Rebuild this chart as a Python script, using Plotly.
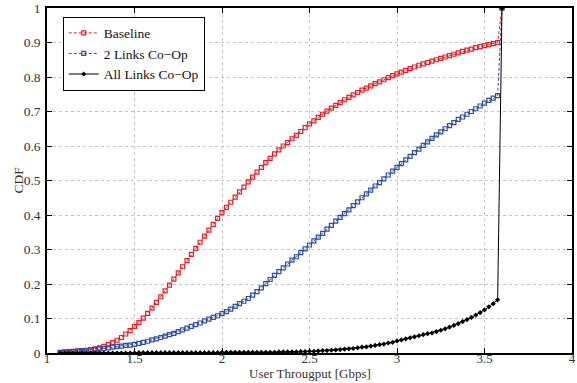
import plotly.graph_objects as go

throughput = [1.075, 1.1, 1.125, 1.15, 1.175, 1.2, 1.225, 1.25, 1.275, 1.3,
              1.325, 1.35, 1.375, 1.4, 1.425, 1.45, 1.475, 1.5, 1.525, 1.55,
              1.575, 1.6, 1.625, 1.65, 1.675, 1.7, 1.725, 1.75, 1.775, 1.8,
              1.825, 1.85, 1.875, 1.9, 1.925, 1.95, 1.975, 2.0, 2.025, 2.05,
              2.075, 2.1, 2.125, 2.15, 2.175, 2.2, 2.225, 2.25, 2.275, 2.3,
              2.325, 2.35, 2.375, 2.4, 2.425, 2.45, 2.475, 2.5, 2.525, 2.55,
              2.575, 2.6, 2.625, 2.65, 2.675, 2.7, 2.725, 2.75, 2.775, 2.8,
              2.825, 2.85, 2.875, 2.9, 2.925, 2.95, 2.975, 3.0, 3.025, 3.05,
              3.075, 3.1, 3.125, 3.15, 3.175, 3.2, 3.225, 3.25, 3.275, 3.3,
              3.325, 3.35, 3.375, 3.4, 3.425, 3.45, 3.475, 3.5, 3.525, 3.55,
              3.575, 3.6]

cdf_baseline = [0.001, 0.002, 0.002, 0.003, 0.004, 0.005, 0.007, 0.009, 0.012, 0.015,
                0.019, 0.024, 0.030, 0.037, 0.045, 0.055, 0.065, 0.077, 0.088, 0.101,
                0.115, 0.130, 0.147, 0.163, 0.180, 0.197, 0.214, 0.232, 0.250, 0.268,
                0.286, 0.303, 0.321, 0.339, 0.356, 0.373, 0.390, 0.407, 0.422, 0.437,
                0.452, 0.467, 0.481, 0.496, 0.510, 0.524, 0.538, 0.552, 0.564, 0.577,
                0.589, 0.600, 0.610, 0.621, 0.631, 0.642, 0.653, 0.664, 0.673, 0.683,
                0.692, 0.701, 0.710, 0.718, 0.726, 0.734, 0.741, 0.748, 0.755, 0.762,
                0.768, 0.774, 0.781, 0.786, 0.792, 0.798, 0.804, 0.809, 0.814, 0.819,
                0.824, 0.829, 0.834, 0.838, 0.842, 0.846, 0.850, 0.854, 0.858, 0.862,
                0.866, 0.870, 0.874, 0.878, 0.881, 0.885, 0.888, 0.891, 0.894, 0.897,
                0.900, 1.000]

cdf_2links = [0.002, 0.003, 0.004, 0.005, 0.006, 0.007, 0.008, 0.009, 0.010, 0.012,
              0.013, 0.015, 0.017, 0.019, 0.020, 0.022, 0.023, 0.025, 0.028, 0.031,
              0.034, 0.038, 0.041, 0.045, 0.049, 0.053, 0.057, 0.062, 0.067, 0.072,
              0.077, 0.082, 0.087, 0.093, 0.098, 0.103, 0.108, 0.114, 0.120, 0.127,
              0.135, 0.143, 0.150, 0.158, 0.168, 0.178, 0.189, 0.201, 0.213, 0.225,
              0.236, 0.247, 0.258, 0.269, 0.279, 0.291, 0.302, 0.313, 0.325, 0.336,
              0.347, 0.359, 0.370, 0.382, 0.393, 0.404, 0.415, 0.427, 0.438, 0.450,
              0.461, 0.472, 0.484, 0.494, 0.505, 0.516, 0.527, 0.538, 0.549, 0.560,
              0.570, 0.581, 0.591, 0.602, 0.612, 0.622, 0.632, 0.641, 0.650, 0.659,
              0.668, 0.677, 0.684, 0.692, 0.700, 0.708, 0.716, 0.724, 0.732, 0.739,
              0.746, 1.000]

cdf_all_links = [0.000, 0.000, 0.000, 0.000, 0.000, 0.000, 0.000, 0.000, 0.000, 0.000,
                 0.000, 0.000, 0.000, 0.000, 0.000, 0.000, 0.000, 0.000, 0.001, 0.001,
                 0.001, 0.001, 0.001, 0.001, 0.001, 0.001, 0.001, 0.001, 0.001, 0.001,
                 0.001, 0.001, 0.001, 0.001, 0.001, 0.001, 0.001, 0.002, 0.002, 0.002,
                 0.002, 0.002, 0.002, 0.002, 0.002, 0.002, 0.002, 0.002, 0.002, 0.002,
                 0.003, 0.003, 0.003, 0.003, 0.003, 0.004, 0.004, 0.005, 0.005, 0.006,
                 0.007, 0.007, 0.008, 0.009, 0.010, 0.011, 0.012, 0.013, 0.015, 0.017,
                 0.018, 0.020, 0.022, 0.024, 0.026, 0.029, 0.031, 0.035, 0.038, 0.041,
                 0.044, 0.047, 0.050, 0.053, 0.056, 0.058, 0.062, 0.066, 0.070, 0.075,
                 0.080, 0.085, 0.091, 0.097, 0.103, 0.110, 0.117, 0.125, 0.134, 0.143,
                 0.154, 1.000]

x_ticks = [1, 1.5, 2, 2.5, 3, 3.5, 4]
x_tick_labels = ["1", "1.5", "2", "2.5", "3", "3.5", "4"]
y_ticks = [0, 0.1, 0.2, 0.3, 0.4, 0.5, 0.6, 0.7, 0.8, 0.9, 1]
y_tick_labels = ["0", "0.1", "0.2", "0.3", "0.4", "0.5", "0.6", "0.7", "0.8", "0.9", "1"]
x_title = "User Througput [Gbps]"
y_title = "CDF"

RED = "#ED1C24"
BLUE = "#2E4DA0"
FONT = "Liberation Serif, Times New Roman, serif"
TXT = "#333333"

fig = go.Figure()
fig.add_trace(go.Scatter(
    x=throughput, y=cdf_baseline, name="Baseline", mode="lines+markers",
    line=dict(color=RED, width=1, dash="3px,2px"),
    marker=dict(symbol="square-open", size=4, color=RED, line=dict(width=1.2, color=RED)),
))
fig.add_trace(go.Scatter(
    x=throughput, y=cdf_2links, name="2 Links Co\u2212Op", mode="lines+markers",
    line=dict(color=BLUE, width=1, dash="3px,2px"),
    marker=dict(symbol="square-open", size=4, color=BLUE, line=dict(width=1.2, color=BLUE)),
))
fig.add_trace(go.Scatter(
    x=throughput, y=cdf_all_links, name="All Links Co\u2212Op", mode="lines+markers",
    line=dict(color="black", width=1),
    marker=dict(symbol="diamond", size=4, color="black"),
))

axis_common = dict(
    showline=True, mirror="ticks", linecolor="black", linewidth=1.5,
    ticks="inside", ticklen=5, tickcolor="black", tickwidth=1,
    showgrid=True, gridcolor="#c4c4c4", gridwidth=1, griddash="dot",
    zeroline=False, automargin=False,
)

fig.update_layout(
    width=577, height=383,
    margin=dict(l=47, r=5, t=8, b=30),
    plot_bgcolor="white", paper_bgcolor="white",
    font=dict(family=FONT, size=13.5, color=TXT),
    xaxis=dict(range=[1, 4], tickvals=x_ticks, ticktext=x_tick_labels,
               ticklabelstandoff=-7, tickfont=dict(family=FONT, size=13, color=TXT),
               **axis_common),
    yaxis=dict(range=[0, 1], tickvals=y_ticks, ticktext=y_tick_labels,
               ticklabelstandoff=2, tickfont=dict(family=FONT, size=13.5, color=TXT),
               **axis_common),
    legend=dict(x=0.03, y=0.975, xanchor="left", yanchor="top",
                bgcolor="white", bordercolor="black", borderwidth=1,
                font=dict(family=FONT, size=13.5, color="#111111"),
                tracegroupgap=0, itemwidth=30),
    showlegend=True,
    annotations=[
        dict(text=x_title, xref="paper", yref="paper", x=0.5, y=0,
             xanchor="center", yanchor="bottom", yshift=-29, borderpad=0,
             showarrow=False, font=dict(family=FONT, size=13, color=TXT)),
        dict(text=y_title, xref="paper", yref="paper", x=0, y=0.5,
             xanchor="center", yanchor="middle", xshift=-29, textangle=-90,
             showarrow=False, font=dict(family=FONT, size=13.5, color=TXT)),
    ],
)

fig.write_html("out.html")
